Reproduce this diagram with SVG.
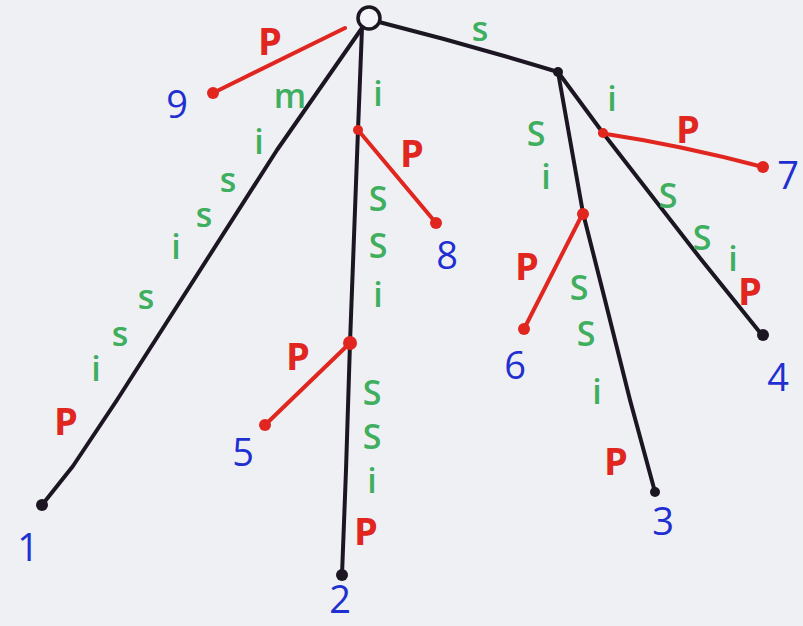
<svg xmlns="http://www.w3.org/2000/svg" width="803" height="626" viewBox="0 0 803 626">
<style>
.edge{fill:none;stroke:#1c1622;stroke-width:4;stroke-linecap:round;stroke-linejoin:round}
.red{fill:none;stroke:#e0261e;stroke-width:4;stroke-linecap:round}
.rdot{fill:#e0261e}
.bdot{fill:#1c1622}
text{font-family:"Open Sans","DejaVu Sans",sans-serif;text-anchor:middle;dominant-baseline:central}
.g{fill:#3fae5e;font-size:34px;font-weight:600}
.G{fill:#3fae5e;font-size:34px;font-weight:600}
.p{fill:#e0261e;font-size:38px;font-weight:bold}
.n{fill:#1f2fd0;font-size:38px}
</style>
<rect width="803" height="626" fill="#eef0f4"/>
<g id="connectors">
<path class="edge" d="M362 28 L277 150 L117 400 L73 466 L42 505"/>
<path class="edge" d="M362 28 L358 130 L350 343 L346 470 L342 575"/>
<path class="edge" d="M379 22 Q470 45 558 72"/>
<path class="edge" d="M558 72 L583 213 L605 300 L630 400 L655 492"/>
<path class="edge" d="M558 72 L603 133 L700 258 L762 335"/>
<line class="red" x1="345" y1="28" x2="213" y2="93"/>
<line class="red" x1="358" y1="130" x2="436" y2="223"/>
<line class="red" x1="350" y1="343" x2="265" y2="425"/>
<line class="red" x1="583" y1="213" x2="524" y2="329"/>
<path class="red" d="M600 133 Q680 145 763 167"/>
<g id="edge-labels">
<text class="p" x="270" y="40">P</text>
<text class="g" x="290" y="95">m</text>
<text class="g" x="259" y="141">i</text>
<text class="g" x="228" y="179">s</text>
<text class="g" x="204" y="214">s</text>
<text class="g" x="176" y="246">i</text>
<text class="g" x="146" y="296">s</text>
<text class="g" x="120" y="333">s</text>
<text class="g" x="96" y="368">i</text>
<text class="p" x="66" y="420">P</text>
<text class="g" x="480" y="28">s</text>
<text class="g" x="378" y="93">i</text>
<text class="p" x="412" y="152">P</text>
<text class="G" x="378" y="198">S</text>
<text class="G" x="378" y="245">S</text>
<text class="g" x="378" y="294">i</text>
<text class="p" x="298" y="355">P</text>
<text class="G" x="372" y="392">S</text>
<text class="G" x="372" y="436">S</text>
<text class="g" x="372" y="480">i</text>
<text class="p" x="366" y="530">P</text>
<text class="G" x="536" y="133">S</text>
<text class="g" x="546" y="176">i</text>
<text class="p" x="527" y="265">P</text>
<text class="G" x="579" y="287">S</text>
<text class="G" x="586" y="333">S</text>
<text class="g" x="597" y="391">i</text>
<text class="p" x="616" y="460">P</text>
<text class="g" x="612" y="98">i</text>
<text class="p" x="688" y="128">P</text>
<text class="G" x="668" y="195">S</text>
<text class="G" x="702" y="237">S</text>
<text class="g" x="733" y="258">i</text>
<text class="p" x="750" y="290">P</text>
</g>
</g>
<g id="root"><circle cx="369" cy="18" r="11" fill="#f4f5f8" stroke="#1c1622" stroke-width="3.5"/></g>
<g id="node-s"><circle class="bdot" cx="558" cy="72" r="5"/></g>
<g id="node-i"><circle class="rdot" cx="358" cy="130" r="5"/></g>
<g id="node-issi"><circle class="rdot" cx="350" cy="343" r="7"/></g>
<g id="node-si"><circle class="rdot" cx="583" cy="214" r="6"/></g>
<g id="node-ssi"><circle class="rdot" cx="603" cy="133" r="5"/></g>
<g id="leaf-1"><circle class="bdot" cx="42" cy="505" r="6"/><text class="n" x="28" y="546">1</text></g>
<g id="leaf-2"><circle class="bdot" cx="342" cy="575" r="6"/><text class="n" x="340" y="598">2</text></g>
<g id="leaf-3"><circle class="bdot" cx="655" cy="492" r="5"/><text class="n" x="663" y="520">3</text></g>
<g id="leaf-4"><circle class="bdot" cx="763" cy="335" r="6"/><text class="n" x="778" y="376">4</text></g>
<g id="leaf-5"><circle class="rdot" cx="265" cy="425" r="6"/><text class="n" x="243" y="451">5</text></g>
<g id="leaf-6"><circle class="rdot" cx="524" cy="329" r="6"/><text class="n" x="515" y="364">6</text></g>
<g id="leaf-7"><circle class="rdot" cx="763" cy="167" r="6"/><text class="n" x="788" y="174">7</text></g>
<g id="leaf-8"><circle class="rdot" cx="436" cy="223" r="6"/><text class="n" x="447" y="254">8</text></g>
<g id="leaf-9"><circle class="rdot" cx="213" cy="93" r="6"/><text class="n" x="177" y="103">9</text></g>
</svg>
